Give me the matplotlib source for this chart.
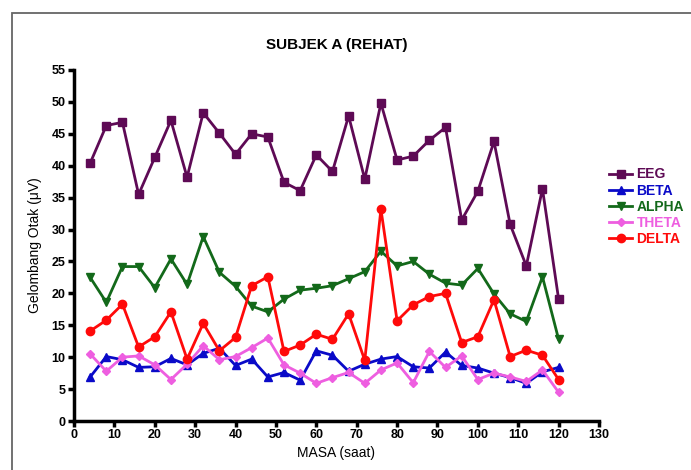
import matplotlib
matplotlib.use("Agg")
import matplotlib.pyplot as plt
from matplotlib.patches import Rectangle

plt.rcParams['font.family'] = ['Liberation Sans', 'DejaVu Sans']

masa = [4, 8, 12, 16, 20, 24, 28, 32, 36, 40, 44, 48, 52, 56, 60,
        64, 68, 72, 76, 80, 84, 88, 92, 96, 100, 104, 108, 112, 116, 120]

eeg = [40.4, 46.3, 46.8, 35.5, 41.3, 47.1, 38.2, 48.3, 45.1, 41.8,
       45.0, 44.5, 37.4, 36.1, 41.7, 39.1, 47.8, 37.9, 49.8, 40.9,
       41.5, 44.0, 46.0, 31.5, 36.0, 43.8, 30.8, 24.3, 36.4, 19.1]
beta = [6.9, 10.1, 9.6, 8.4, 8.5, 9.8, 8.8, 10.6, 11.4, 8.7,
        9.7, 6.9, 7.6, 6.4, 11.0, 10.3, 7.8, 8.9, 9.7, 10.1,
        8.5, 8.3, 10.8, 8.7, 8.3, 7.5, 6.8, 5.9, 7.7, 8.4]
alpha = [22.5, 18.6, 24.2, 24.2, 20.9, 25.4, 21.4, 28.9, 23.3, 21.1,
         18.0, 17.1, 19.1, 20.5, 20.8, 21.2, 22.3, 23.4, 26.6, 24.3,
         25.0, 23.0, 21.6, 21.3, 23.9, 19.9, 16.8, 15.6, 22.6, 12.8]
theta = [10.5, 7.8, 10.0, 10.2, 8.8, 6.5, 8.9, 11.8, 9.6, 10.1,
         11.5, 13.0, 8.8, 7.5, 5.9, 6.8, 7.6, 5.9, 8.0, 9.1,
         6.0, 10.9, 8.4, 10.2, 6.5, 7.5, 6.9, 6.2, 8.0, 4.5]
delta = [14.1, 15.8, 18.3, 11.6, 13.2, 17.1, 9.7, 15.3, 11.0, 13.1,
         21.2, 22.6, 10.9, 11.9, 13.6, 12.8, 16.8, 9.5, 33.2, 15.7,
         18.2, 19.5, 20.0, 12.3, 13.2, 19.0, 10.1, 11.1, 10.3, 6.5]

series = [
    ("EEG", eeg, "#5e0a55", "s", 6.0),
    ("BETA", beta, "#0a0ac8", "^", 6.0),
    ("ALPHA", alpha, "#13691a", "v", 6.0),
    ("THETA", theta, "#ee5ee0", "D", 4.2),
    ("DELTA", delta, "#ff0a0a", "o", 6.0),
]

fig = plt.figure(figsize=(6.91, 4.70), dpi=100)

# outer frame
fig.patches.append(Rectangle((12 / 691, -0.1), 1.2, (470 - 13) / 470 + 0.1,
                             transform=fig.transFigure, fill=False,
                             edgecolor="#666666", linewidth=1.3))

ax = fig.add_axes([74 / 691, 49 / 470, 525 / 691, 351 / 470])

for name, vals, col, mk, ms in series:
    ax.plot(masa, vals, color=col, marker=mk, markersize=ms,
            linewidth=2.0, label=name, clip_on=False)

ax.set_xlim(0, 130)
ax.set_ylim(0, 55)
ax.set_xticks(range(0, 131, 10))
ax.set_yticks(range(0, 56, 5))

for s in ("top", "right"):
    ax.spines[s].set_visible(False)
for s in ("left", "bottom"):
    ax.spines[s].set_linewidth(2.5)

ax.tick_params(direction="out", length=4, width=2.5, labelsize=9, pad=2)
for lab in ax.get_xticklabels() + ax.get_yticklabels():
    lab.set_fontweight("bold")

ax.set_title("SUBJEK A (REHAT)", fontsize=11, fontweight="bold", pad=15)
ax.set_xlabel("MASA (saat)", fontsize=10, labelpad=3)
ax.set_ylabel("Gelombang Otak (\u03bcV)", fontsize=10, labelpad=7)

leg = ax.legend(loc="upper left", bbox_to_anchor=(1.0, 0.75), frameon=False,
                fontsize=10, handlelength=1.7, handletextpad=0.3,
                labelspacing=0.15, borderaxespad=0.3)
for txt, (_, _, col, _, _) in zip(leg.get_texts(), series):
    txt.set_color(col)
    txt.set_fontweight("bold")

fig.savefig("out.png", dpi=100)
